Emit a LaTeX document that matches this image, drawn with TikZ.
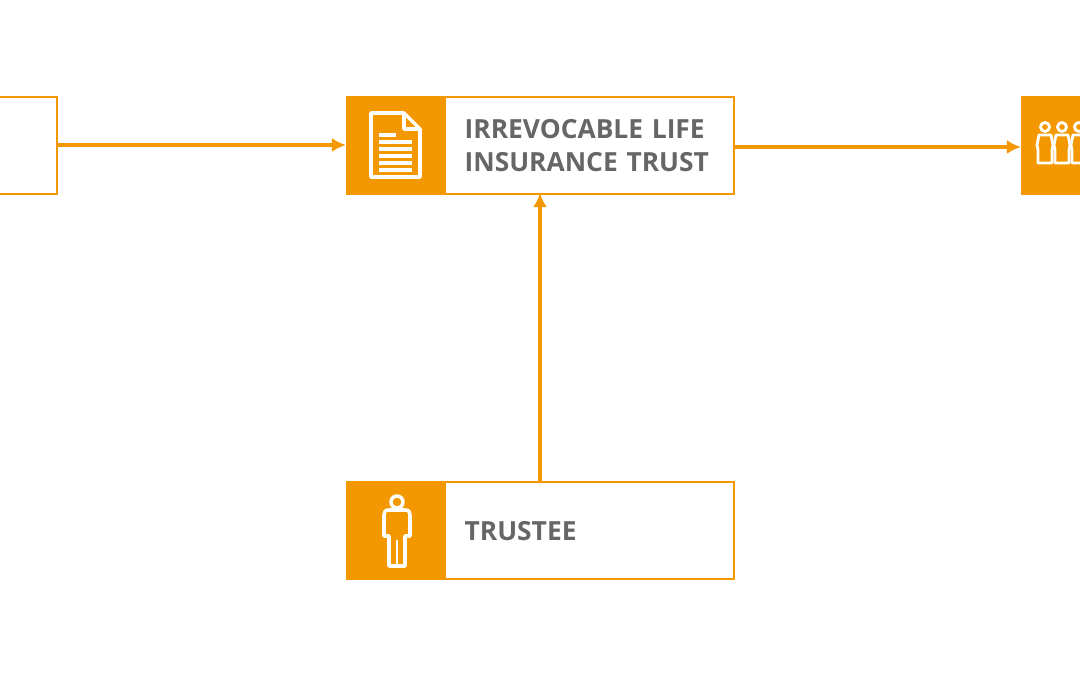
\documentclass[tikz,border=0pt]{standalone}
\usepackage{fontspec}
\setmainfont{Open Sans}
\usepackage{tikz}
\usetikzlibrary{positioning, arrows.meta}
\definecolor{trustorange}{HTML}{F39800}
\definecolor{textgray}{HTML}{666666}
\tikzset{
  iconbox/.style={draw=trustorange, fill=trustorange, line width=1.3pt, minimum width=98*0.02cm, minimum height=97*0.02cm, inner sep=0pt},
  textbox/.style={draw=trustorange, line width=1.3pt, minimum width=289*0.02cm, minimum height=97*0.02cm, inner sep=0pt, text width=250*0.02cm, align=left, font=\bfseries\fontsize{15}{19}\selectfont, text=textgray},
  flow/.style={draw=trustorange, line width=2pt, -{Latex[length=8pt,width=8pt]}},
  icon/.style={draw=white, line width=2pt, line join=round}
}
\begin{document}
\begin{tikzpicture}[x=0.02cm, y=-0.02cm]
        \useasboundingbox (0,0) rectangle (1080,675);
        % Nodes
        \node[iconbox, anchor=north west] (docicon) at (346,96) {};
        \node[textbox, anchor=north west] (trust) at (444,96) {IRREVOCABLE LIFE\\INSURANCE TRUST};
        \node[iconbox, anchor=north west] (manicon) at (346,481) {};
        \node[textbox, anchor=north west] (trustee) at (444,481) {TRUSTEE};
        \node[draw=trustorange, line width=1.3pt, minimum width=98*0.02cm, minimum height=97*0.02cm, anchor=north east] (grantor) at (58,96) {};
        \node[iconbox, anchor=north west] (heirs) at (1021,96) {};
        \coordinate (trustin) at (346,145);
        \coordinate (trustout) at (733,147);
        \coordinate (heirsin) at (1021,147);
        \coordinate (trusteetop) at (540,481);
        \coordinate (trustbottom) at (540,193);

        % Icons
        \draw[icon] (371,113) -- (404,113) -- (420,129) -- (420,177) -- (371,177) -- cycle;
        \draw[icon] (404,113) -- (404,129) -- (420,129);
        \foreach \y in {142,149,156,163,170} {
            \draw[white, line width=2pt] (379,\y) -- (412,\y);
        }
        \draw[white, line width=2pt] (379,135) -- (396,135);
        \draw[icon] (397,502) circle (6);
        \draw[icon] (389,510) -- (405,510) .. controls (409,510) and (410,512) .. (410,515) -- (410,536) -- (405,536) -- (405,566) -- (389,566) -- (389,536) -- (384,536) -- (384,515) .. controls (384,512) and (385,510) .. (389,510) -- cycle;
        \draw[white, line width=1.4pt] (397,540) -- (397,566);
        \foreach \x in {1045,1062,1079} {
            \draw[icon, line width=1.6pt] (\x,127) circle (4.5);
            \draw[icon, line width=1.6pt] (\x-7,163) -- (\x-7,150) -- (\x-8,145) -- (\x-6,135) -- (\x+6,135) -- (\x+8,145) -- (\x+7,150) -- (\x+7,163) -- cycle;
        }

        % Lines
        \draw[flow] (grantor.east |- trustin) -- (trustin);
        \draw[flow] (trustout) -- (heirsin);
        \draw[flow] (trusteetop) -- (trustbottom);
\end{tikzpicture}
\end{document}
